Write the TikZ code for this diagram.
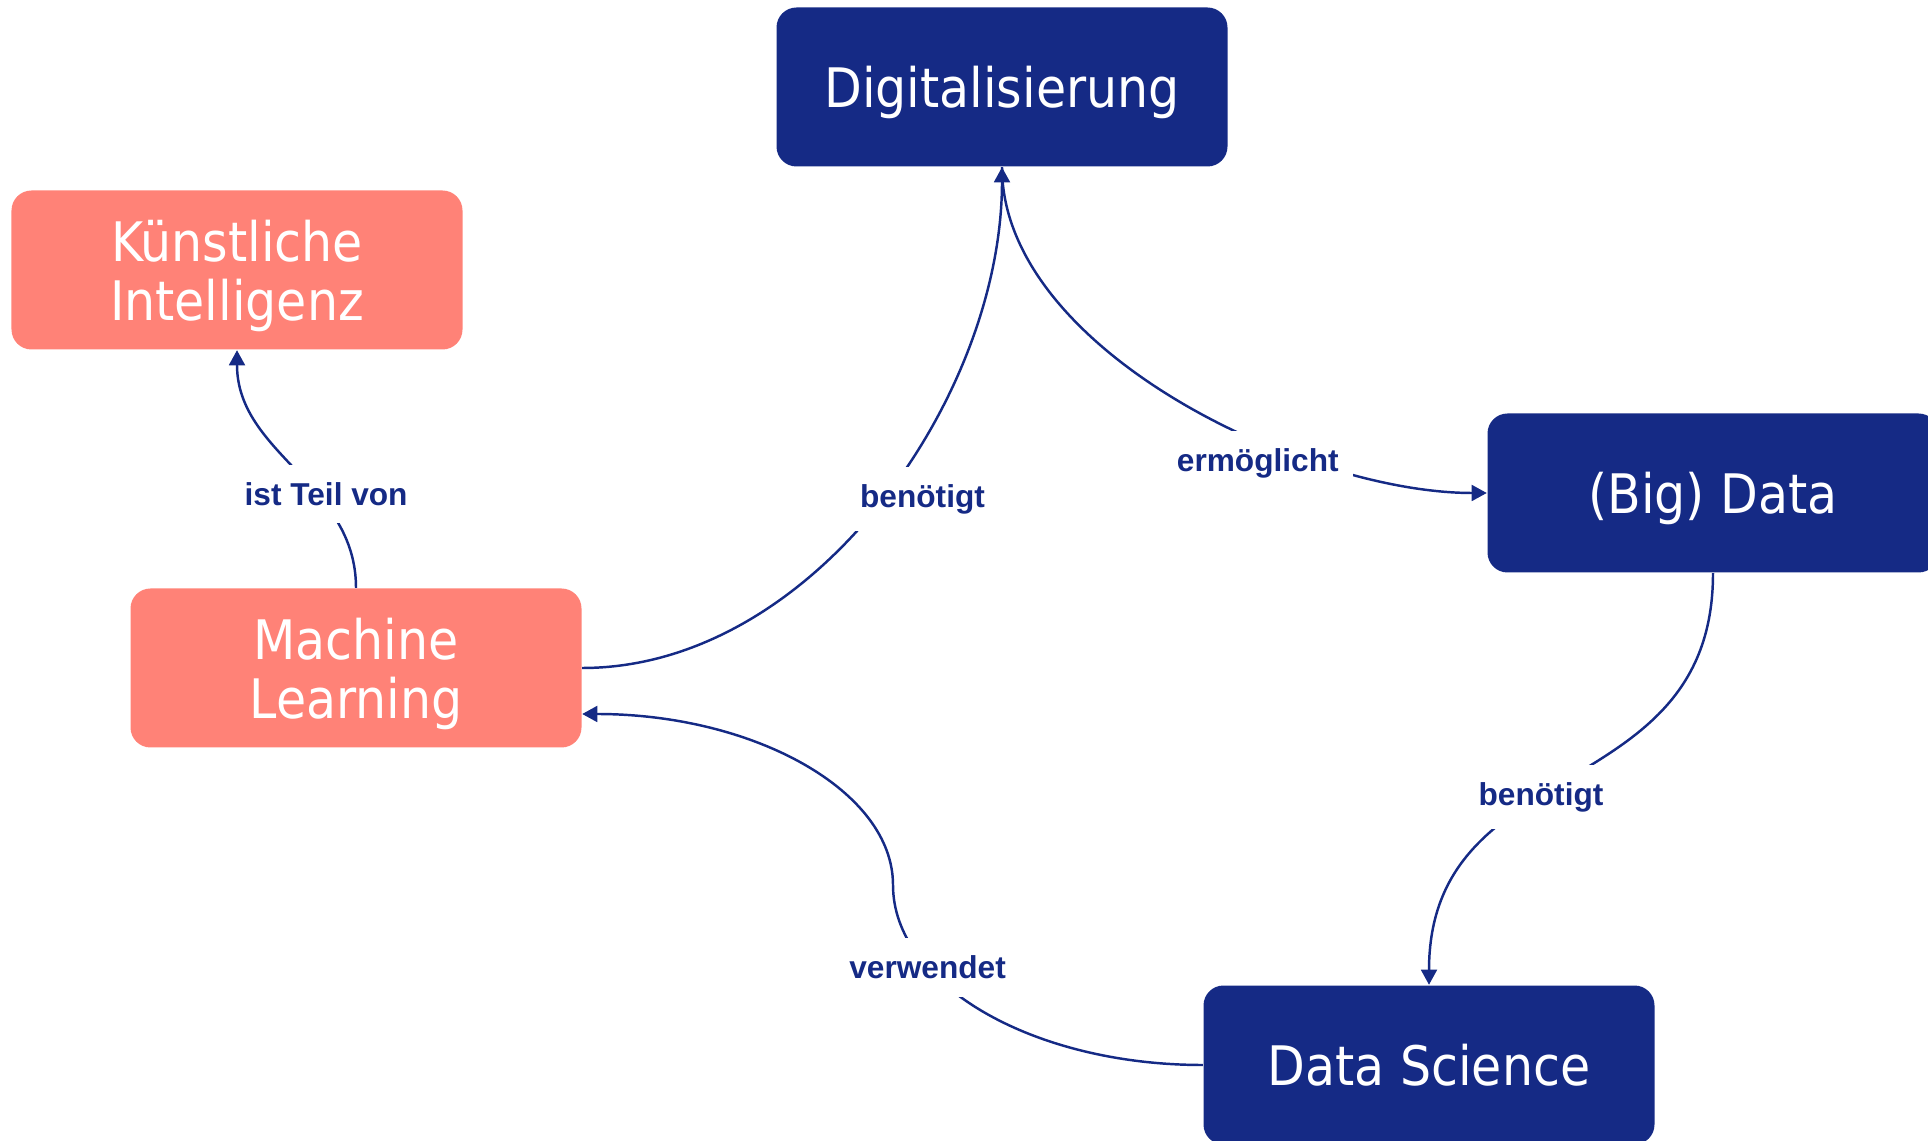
\documentclass[tikz,border=0pt]{standalone}
\usepackage{fontspec}
\setmainfont{DejaVu Sans}
\newfontfamily\boxfont{DejaVu Sans Condensed}
\newfontfamily\labelfont{Liberation Sans}
\usetikzlibrary{arrows.meta}
\usetikzlibrary{positioning}
\definecolor{navy}{HTML}{152A85}
\definecolor{salmon}{HTML}{FF8277}

\begin{document}
\begin{tikzpicture}[box node/.style={rectangle,rounded corners=0.2cm,minimum width=4.51cm,minimum height=1.59cm,
                      inner sep=0pt,align=center,text=white,text depth=0pt,
                      font=\boxfont\fontsize{15.5}{16.8}\selectfont},
                    navy node/.style={box node,fill=navy},
                    salmon node/.style={box node,fill=salmon},
                    link/.style={draw=navy,line width=0.7pt,-{Triangle[length=4.3pt,width=4.5pt]}},
                    every edge/.style={link},
                    edge label/.style={fill=white,text=navy,inner xsep=4pt,inner ysep=5pt,
                      font=\labelfont\bfseries\fontsize{9}{10}\selectfont}]

  \useasboundingbox (0,0) rectangle (19.28,-11.41);

  \node[navy node] (dig) at (10.02,-0.87) {Digitalisierung};
  \node[salmon node] (ki) at (2.37,-2.70) {Künstliche\\Intelligenz};
  \node[salmon node] (ml) at (3.56,-6.68) {Machine\\Learning};
  \node[navy node] (bigdata) at (17.13,-4.93) {(Big) Data};
  \node[navy node] (ds) at (14.29,-10.65) {Data Science};
  \coordinate (turn) at (8.93,-8.85);

  \path (ml.north) edge [out=90,in=-90] node[edge label,pos=0.4,xshift=0.12cm,yshift=-0.05cm] {ist Teil von} (ki.south);
  \path (ml.east) edge [out=0,in=-90,looseness=0.9] node[edge label,xshift=0.44cm,yshift=0.05cm] {benötigt} (dig.south);
  \path (dig.south) edge [out=-90,in=180,looseness=0.8] node[edge label,pos=0.64,xshift=-0.05cm,yshift=-0.21cm] {ermöglicht} (bigdata.west);
  \path (bigdata.south) edge [out=-90,in=90,looseness=1.2] node[edge label,xshift=-0.3cm,yshift=-0.18cm] {benötigt} (ds.north);
  \draw[link] (ds.west) to [out=180,in=-90,out distance=1.71cm,in distance=0.99cm]
      node[edge label,pos=0.7] {verwendet} (turn)
    to [out=90,in=0,out distance=0.94cm,in distance=1.72cm] ([yshift=-0.46cm]ml.east);

\end{tikzpicture}
\end{document}
